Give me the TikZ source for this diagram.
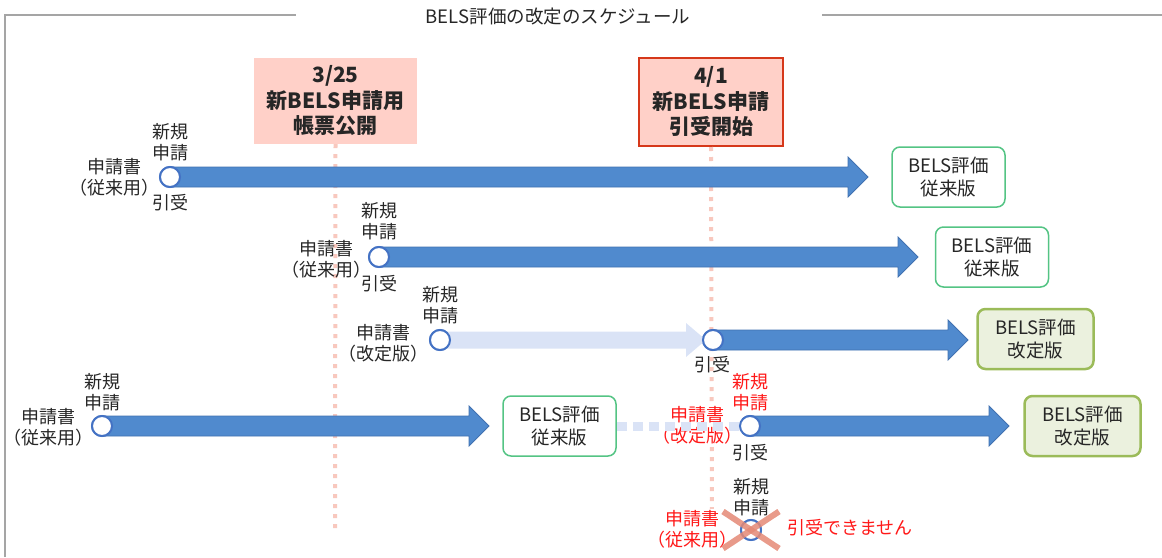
\documentclass[tikz,border=0pt]{standalone}
\usepackage{fontspec}
\setmainfont{Noto Sans CJK JP}
\usetikzlibrary{calc}
\definecolor{txt}{RGB}{38,38,38}
\definecolor{frame}{RGB}{165,165,165}
\definecolor{barfill}{RGB}{80,138,206}
\definecolor{barline}{RGB}{65,113,177}
\definecolor{lightbar}{RGB}{218,227,246}
\definecolor{circ}{RGB}{68,114,196}
\definecolor{datefill}{RGB}{255,208,200}
\definecolor{dateline}{RGB}{214,56,26}
\definecolor{pinkdot}{RGB}{248,200,190}
\definecolor{greenline}{RGB}{84,196,132}
\definecolor{olivefill}{RGB}{235,241,222}
\definecolor{oliveline}{RGB}{155,187,89}
\definecolor{redtxt}{RGB}{255,24,24}
\definecolor{xcol}{RGB}{229,137,118}
\newcommand\blockarr[5]{%
  \path[#1] ($(#2.center)+(0,#4)$) -- ($(#3)+(-20,#4)$) -- ($(#3)+(-20,#5)$) -- (#3)
    -- ($(#3)+(-20,-#5)$) -- ($(#3)+(-20,-#4)$) -- ($(#2.center)+(0,-#4)$) -- cycle;}
\tikzset{
  lbl/.style={font=\fontsize{18}{21}\selectfont, text=txt, align=center, inner sep=0pt},
  redlbl/.style={lbl, text=redtxt},
  whitebg/.style={fill=white, inner sep=1pt},
  datebox/.style={fill=datefill, minimum width=163pt, minimum height=86pt, align=center,
    font=\fontsize{21}{25.5}\selectfont\bfseries, text=txt, inner sep=0pt},
  oldbox/.style={draw=greenline, line width=1.5pt, fill=white, rounded corners=8pt,
    minimum width=113pt, minimum height=60pt, align=center,
    font=\fontsize{18.5}{23}\selectfont, text=txt, inner sep=0pt},
  newbox/.style={oldbox, draw=oliveline, fill=olivefill, line width=2.5pt, minimum width=116pt},
  pt/.style={circle, draw=circ, line width=2pt, fill=white, minimum size=20pt, inner sep=0pt},
  darkarr/.style={fill=barfill, draw=barline, line width=0.8pt},
  lightarr/.style={fill=lightbar},
  vline/.style={draw=pinkdot, line width=4pt, dash pattern=on 4pt off 6pt},
  bluedots/.style={draw=lightbar, line width=9pt, dash pattern=on 10pt off 6pt},
  framel/.style={draw=frame, line width=2pt},
  cross/.style={draw=xcol, line width=6pt, opacity=0.85}
}
\begin{document}
\begin{tikzpicture}[x=1pt,y=-1pt]
\useasboundingbox (0,0) rectangle (1162,557);
% frame and title
\coordinate (fbl) at (5,557);
\coordinate (ftl) at (5,15);
\coordinate (fgapl) at (296,15);
\coordinate (fgapr) at (822,15);
\coordinate (ftr) at (1162,15);
\draw[framel] (fbl) -- (ftl) -- (fgapl);
\draw[framel] (fgapr) -- (ftr);
\node[lbl, font=\fontsize{18.5}{21}\selectfont] (title) at (558,17) {BELS評価の改定のスケジュール};
% date boxes
\node[datebox] (dA) at (335.5,101) {3/25\\新BELS申請用\\帳票公開};
\node[datebox, draw=dateline, line width=2pt, minimum width=144pt, minimum height=88pt] (dB) at (711,102) {4/1\\新BELS申請\\引受開始};
\coordinate (eA) at (335,530);
\coordinate (eB) at (712,530);
\draw[vline] (dA.south) -- (eA);
\draw[vline] (dB.south) -- (eB);
% result boxes
\node[oldbox] (b1) at (948.5,177) {BELS評価\\従来版};
\node[oldbox] (b2) at (992,257) {BELS評価\\従来版};
\node[newbox] (b3) at (1035.5,339) {BELS評価\\改定版};
\node[oldbox] (b4) at (559.5,426) {BELS評価\\従来版};
\node[newbox] (b5) at (1082.5,426) {BELS評価\\改定版};
% points
\node[pt] (c1) at (170,177) {};
\node[pt] (c2) at (379,257) {};
\node[pt] (c3a) at (440,340) {};
\node[pt] (c3b) at (713,340) {};
\node[pt] (c4a) at (102,426) {};
\node[pt] (c4b) at (750,426) {};
\node[pt] (c5) at (751,530) {};
% arrow tips
\coordinate (t1) at (868,177);
\coordinate (t2) at (918,257);
\coordinate (t3a) at (706,340);
\coordinate (t3b) at (968,340);
\coordinate (t4a) at (489,426);
\coordinate (t4b) at (1009,426);
% arrows
\blockarr{lightarr}{c3a}{t3a}{8.5}{17}
\blockarr{darkarr}{c1}{t1}{10}{20}
\blockarr{darkarr}{c2}{t2}{10}{20}
\blockarr{darkarr}{c3b}{t3b}{10}{20}
\blockarr{darkarr}{c4a}{t4a}{10}{20}
\blockarr{darkarr}{c4b}{t4b}{10}{20}
% labels with white background (cover the pink line)
\node[redlbl, whitebg] (a4b) at ($(c4b)+(-53,-1)$) {申請書\\（改定版）};
\node[redlbl, whitebg] (a5) at ($(c5)+(-59,-1)$) {申請書\\（従来用）};
\draw[bluedots] (b4.east) -- (c4b.west);
% redraw points on top
\node[pt] at (c1) {};
\node[pt] at (c2) {};
\node[pt] at (c3a) {};
\node[pt] at (c3b) {};
\node[pt] at (c4a) {};
\node[pt] at (c4b) {};
\node[pt] at (c5) {};
% labels row 1
\node[lbl] (n1) at ($(c1)+(0,-35)$) {新規\\申請};
\node[lbl] (a1) at ($(c1)+(-56,0)$) {申請書\\（従来用）};
\node[lbl] (h1) at ($(c1)+(0,26)$) {引受};
% row 2
\node[lbl] (n2) at ($(c2)+(0,-36)$) {新規\\申請};
\node[lbl] (a2) at ($(c2)+(-53,2)$) {申請書\\（従来用）};
\node[lbl] (h2) at ($(c2)+(0,27)$) {引受};
% row 3
\node[lbl] (n3) at ($(c3a)+(0,-35)$) {新規\\申請};
\node[lbl] (a3) at ($(c3a)+(-57,3)$) {申請書\\（改定版）};
\node[lbl] (h3) at ($(c3b)+(-1,25)$) {引受};
% row 4
\node[lbl] (n4a) at ($(c4a)+(0,-34)$) {新規\\申請};
\node[lbl] (a4a) at ($(c4a)+(-54,1)$) {申請書\\（従来用）};
\node[redlbl] (n4b) at ($(c4b)+(0,-34)$) {新規\\申請};
\node[lbl] (h4b) at ($(c4b)+(0,27)$) {引受};
% row 5
\node[lbl] (n5) at ($(c5)+(0,-33)$) {新規\\申請};
\coordinate (x1) at ($(c5)+(-28,-18.5)$);
\coordinate (x2) at ($(c5)+(28,18.5)$);
\coordinate (x3) at ($(c5)+(28,-18.5)$);
\coordinate (x4) at ($(c5)+(-28,18.5)$);
\draw[cross] (x1) -- (x2);
\draw[cross] (x3) -- (x4);
\node[redlbl] (ng) at ($(c5)+(99,-2)$) {引受できません};
\end{tikzpicture}
\end{document}
